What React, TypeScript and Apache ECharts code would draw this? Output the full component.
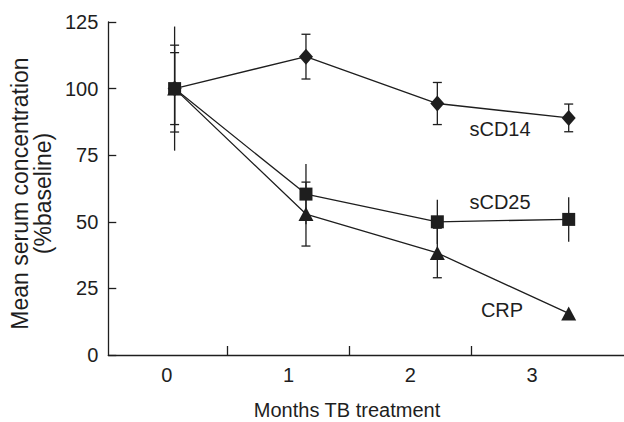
import React, { useEffect, useRef } from "react";
import * as echarts from "echarts";

const months = [0, 1, 2, 3];
const monthLabels = ["0", "1", "2", "3"];
const yTicks = [0, 25, 50, 75, 100, 125];

const sCD14 = [100, 112, 94.4, 89.0];
const sCD14Err = [16.3, 8.4, 7.9, 5.2];
const sCD14Caps = [true, true, true, true];

const sCD25 = [100, 60.4, 50.0, 50.9];
const sCD25Err = [23.3, 11.3, 8.3, 8.35];
const sCD25Caps = [false, false, false, false];

const CRP = [100, 52.9, 38.3, 15.6];
const CRPErr = [13.5, 12.0, 9.3, 0];
const CRPCaps = [true, true, true, true];

const FONT = "'Liberation Sans', Arial, Helvetica, sans-serif";
const INK = "#1e1e1e";

function errData(vals: number[], errs: number[], caps: boolean[]) {
  return months
    .map((m, i) => [m, vals[i] - errs[i], vals[i] + errs[i], caps[i] ? 1 : 0, errs[i]])
    .filter((d) => d[4] > 0);
}

function errSeries(name: string, vals: number[], errs: number[], caps: boolean[]) {
  return {
    type: "custom",
    name: name + " err",
    xAxisIndex: 1,
    yAxisIndex: 0,
    z: 1,
    silent: true,
    data: errData(vals, errs, caps),
    renderItem: (params: any, api: any) => {
      const x = api.value(0);
      const lo = api.coord([x, api.value(1)]);
      const hi = api.coord([x, api.value(2)]);
      const cap = api.value(3);
      const style = { stroke: INK, lineWidth: 1.3 };
      const children: any[] = [
        { type: "line", shape: { x1: hi[0], y1: hi[1], x2: lo[0], y2: lo[1] }, style },
      ];
      if (cap) {
        const w = 4.5;
        children.push({ type: "line", shape: { x1: hi[0] - w, y1: hi[1], x2: hi[0] + w, y2: hi[1] }, style });
        children.push({ type: "line", shape: { x1: lo[0] - w, y1: lo[1], x2: lo[0] + w, y2: lo[1] }, style });
      }
      return { type: "group", children };
    },
  };
}

function lineSeries(name: string, vals: number[], symbol: string, size: number[], z: number) {
  return {
    type: "line",
    name,
    xAxisIndex: 1,
    yAxisIndex: 0,
    z,
    data: months.map((m, i) => [m, vals[i]]),
    symbol,
    symbolSize: size,
    showSymbol: true,
    lineStyle: { color: INK, width: 1.3 },
    itemStyle: { color: INK, borderWidth: 0 },
  };
}

export default function App() {
  const ref = useRef<HTMLDivElement>(null);
  useEffect(() => {
    if (!ref.current) return;
    const chart = echarts.init(ref.current, undefined, { renderer: "svg" });
    const option: any = {
      animation: false,
      backgroundColor: "#ffffff",
      textStyle: { fontFamily: FONT },
      grid: { left: 103, right: 0, top: 22, bottom: 67, containLabel: false },
      xAxis: [
        {
          type: "value",
          position: "bottom",
          min: -0.48,
          max: 3.756,
          axisLine: { show: true, onZero: false, lineStyle: { color: INK, width: 1.3 } },
          axisTick: {
            show: true,
            inside: true,
            length: 9,
            customValues: [0.5, 1.5, 2.5],
            lineStyle: { color: INK, width: 1.3 },
          },
          axisLabel: {
            show: true,
            customValues: months,
            formatter: (v: number) => monthLabels[Math.round(v)] ?? "",
            fontSize: 20,
            color: INK,
            fontFamily: FONT,
            margin: 10,
          },
          splitLine: { show: false },
        },
        {
          type: "value",
          position: "top",
          min: -0.505,
          max: 3.421,
          show: false,
        },
      ],
      yAxis: [
        {
          type: "value",
          min: yTicks[0],
          max: yTicks[yTicks.length - 1],
          interval: 25,
          axisLine: { show: true, onZero: false, lineStyle: { color: INK, width: 1.3 } },
          axisTick: { show: true, inside: true, length: 8, lineStyle: { color: INK, width: 1.3 } },
          axisLabel: { fontSize: 20, color: INK, fontFamily: FONT, margin: 10 },
          splitLine: { show: false },
          name: "Mean serum concentration\n(%baseline)",
          nameLocation: "middle",
          nameGap: 48,
          nameTextStyle: { fontSize: 23, color: INK, fontFamily: FONT, lineHeight: 23, padding: [0, 10, 0, 0] },
        },
      ],
      graphic: [
        {
          type: "text",
          x: 347,
          y: 410,
          style: { text: "Months TB treatment", fill: INK, font: `20px ${FONT}`, textAlign: "center", textVerticalAlign: "middle" },
        },
        {
          type: "text",
          x: 500,
          y: 129,
          style: { text: "sCD14", fill: INK, font: `20px ${FONT}`, textAlign: "center", textVerticalAlign: "middle" },
        },
        {
          type: "text",
          x: 500,
          y: 202,
          style: { text: "sCD25", fill: INK, font: `20px ${FONT}`, textAlign: "center", textVerticalAlign: "middle" },
        },
        {
          type: "text",
          x: 502,
          y: 310,
          style: { text: "CRP", fill: INK, font: `20px ${FONT}`, textAlign: "center", textVerticalAlign: "middle" },
        },
      ],
      series: [
        errSeries("sCD14", sCD14, sCD14Err, sCD14Caps),
        errSeries("CRP", CRP, CRPErr, CRPCaps),
        errSeries("sCD25", sCD25, sCD25Err, sCD25Caps),
        lineSeries("sCD14", sCD14, "diamond", [14, 16], 3),
        lineSeries("CRP", CRP, "triangle", [15, 14], 3),
        lineSeries("sCD25", sCD25, "rect", [13, 13], 4),
      ],
    };
    chart.setOption(option);
    return () => chart.dispose();
  }, []);
  return (
    <div
      ref={ref}
      style={{ position: "absolute", left: 0, top: 0, width: 624, height: 422, background: "#fff" }}
    />
  );
}
